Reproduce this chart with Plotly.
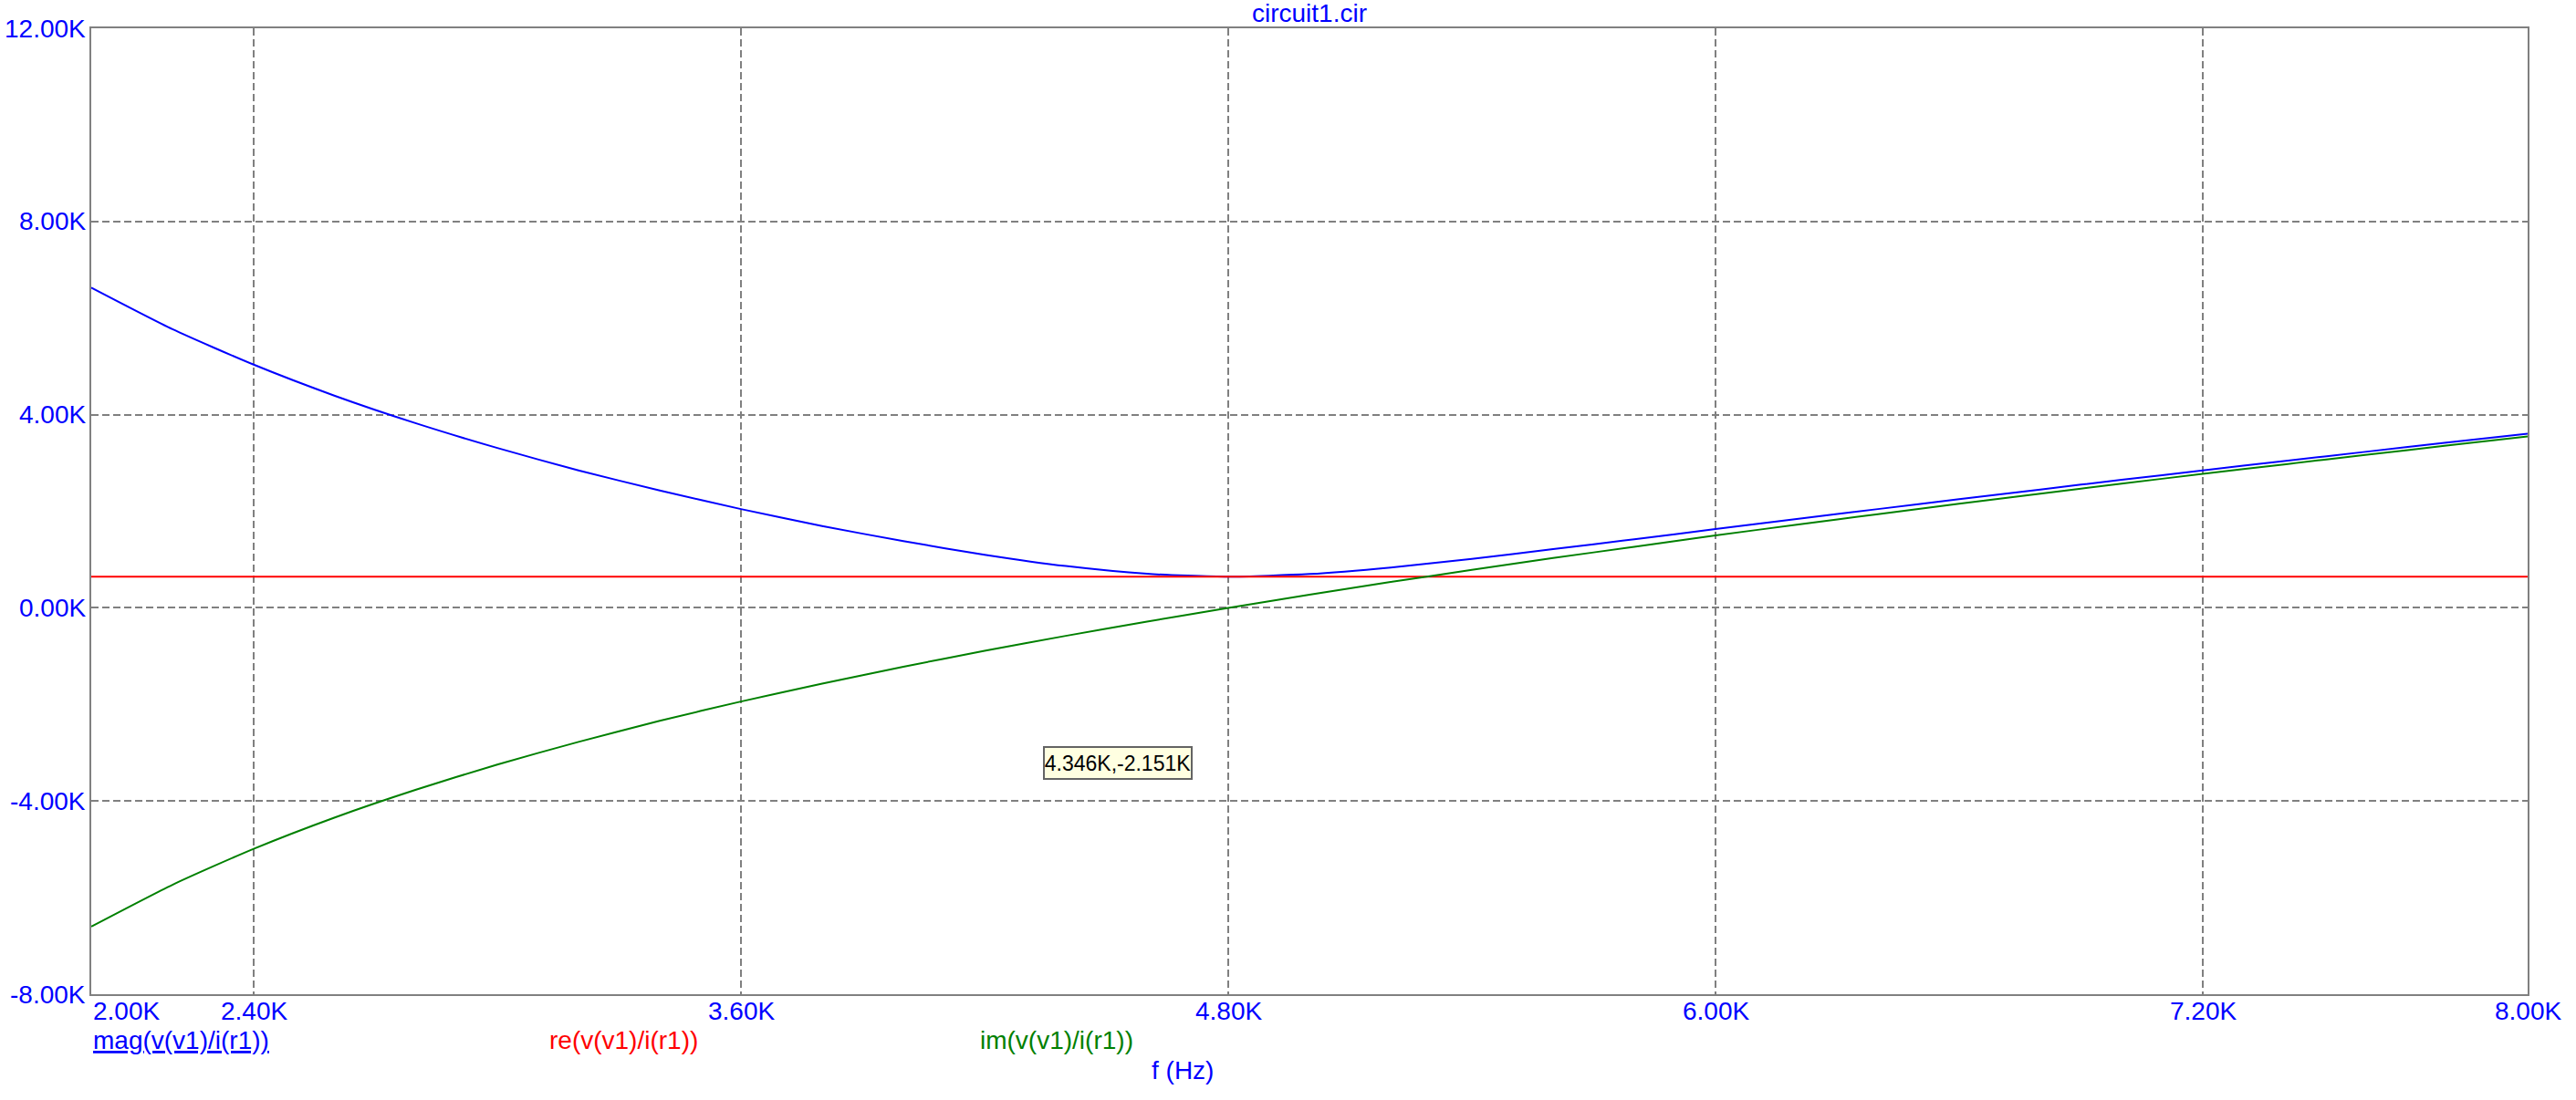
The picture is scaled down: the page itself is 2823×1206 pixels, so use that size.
import plotly.graph_objects as go

# ---- data ----
freq_hz = [2000, 2200, 2400, 2600, 2800, 3000, 3200, 3400, 3600, 3800,
           4000, 4200, 4400, 4600, 4800, 5000, 5200, 5400, 5600, 5800,
           6000, 6200, 6400, 6600, 6800, 7000, 7200, 7400, 7600, 7800, 8000]
mag_z = [6630, 5770, 5035, 4390, 3820, 3310, 2845, 2430, 2045, 1695,
         1380, 1100, 865, 705, 645, 700, 835, 1015, 1215, 1420,
         1630, 1840, 2045, 2250, 2450, 2650, 2845, 3040, 3230, 3420, 3605]
re_z = [645] * len(freq_hz)
im_z = [-6600, -5735, -4990, -4340, -3765, -3245, -2775, -2340, -1940, -1570,
        -1220, -890, -580, -285, 0, 270, 535, 785, 1030, 1265,
        1500, 1720, 1940, 2155, 2365, 2570, 2775, 2970, 3165, 3360, 3550]

x_grid = [2400, 3600, 4800, 6000, 7200]
x_ticks = [2000, 2400, 3600, 4800, 6000, 7200, 8000]
x_tick_text = ["2.00K", "2.40K", "3.60K", "4.80K", "6.00K", "7.20K", "8.00K"]
y_grid = [-4000, 0, 4000, 8000]
y_ticks = [-8000, -4000, 0, 4000, 8000, 12000]
y_tick_text = ["-8.00K", "-4.00K", "0.00K", "4.00K", "8.00K", "12.00K"]

series_names = ["mag(v(v1)/i(r1))", "re(v(v1)/i(r1))", "im(v(v1)/i(r1))"]
title_text = "circuit1.cir"
x_title = "f (Hz)"
cursor_text = "4.346K,-2.151K"

BLUE = "#0000ff"
RED = "#ff0000"
GREEN = "#008000"
GRAY = "#808080"
FONT = "Liberation Sans, Arial, sans-serif"
FS = 28

W, H = 2823, 1206
L, T = 100, 31
PW, PH = 2670, 1059   # plot area in px

fig = go.Figure()
for ys, col, nm in [(mag_z, BLUE, series_names[0]),
                    (re_z, RED, series_names[1]),
                    (im_z, GREEN, series_names[2])]:
    fig.add_trace(go.Scatter(x=freq_hz, y=ys, mode="lines", name=nm,
                             line=dict(color=col, width=2, shape="spline", smoothing=0.6),
                             showlegend=False))

ann = []
# x tick labels
for v, t in zip(x_ticks, x_tick_text):
    xa = "center"
    if v == x_ticks[0]:
        xa = "left"
    ann.append(dict(x=v, y=0, xref="x", yref="paper", text=t, showarrow=False,
                    xanchor=xa, yanchor="middle", yshift=-18,
                    font=dict(family=FONT, size=FS, color=BLUE)))
# y tick labels
for v, t in zip(y_ticks, y_tick_text):
    ann.append(dict(x=0, y=v, xref="paper", yref="y", text=t, showarrow=False,
                    xanchor="right", yanchor="middle", xshift=-4,
                    font=dict(family=FONT, size=FS, color=BLUE)))
# title
ann.append(dict(x=0.5, y=1, xref="paper", yref="paper", text=title_text, showarrow=False,
                xanchor="center", yanchor="middle", yshift=17,
                font=dict(family=FONT, size=FS, color=BLUE)))
# series labels under the plot
label_pos = [0.0, (600 - L) / PW, (1072 - L) / PW]
label_cols = [BLUE, RED, GREEN]
for i, nm in enumerate(series_names):
    txt = "<u>" + nm + "</u>" if i == 0 else nm
    ann.append(dict(x=label_pos[i], y=0, xref="paper", yref="paper", text=txt,
                    showarrow=False, xanchor="left", yanchor="middle", yshift=-50,
                    font=dict(family=FONT, size=FS, color=label_cols[i])))
# x axis title
ann.append(dict(x=(1296 - L) / PW, y=0, xref="paper", yref="paper", text=x_title,
                showarrow=False, xanchor="center", yanchor="middle", yshift=-83,
                font=dict(family=FONT, size=FS, color=BLUE)))
# cursor readout box
ann.append(dict(x=(1225 - L) / PW, y=(T + PH - 836.5) / PH, xref="paper", yref="paper",
                text=cursor_text, showarrow=False, xanchor="center", yanchor="middle",
                bgcolor="#ffffe1", bordercolor="#646464", borderwidth=2, borderpad=0,
                width=160, height=33,
                font=dict(family="Liberation Sans, Arial, sans-serif", size=23, color="#000000")))

fig.update_layout(
    width=W, height=H,
    margin=dict(l=L, r=W - L - PW, t=T, b=H - T - PH, pad=0),
    paper_bgcolor="white", plot_bgcolor="white",
    annotations=ann,
    xaxis=dict(range=[2000, 8000], tickvals=x_grid, showticklabels=False, ticks="",
               showgrid=True, gridcolor=GRAY, gridwidth=2, griddash="8px,4px",
               showline=True, mirror=True, linecolor=GRAY, linewidth=2, zeroline=False),
    yaxis=dict(range=[-8000, 12000], tickvals=y_grid, showticklabels=False, ticks="",
               showgrid=True, gridcolor=GRAY, gridwidth=2, griddash="8px,4px",
               showline=True, mirror=True, linecolor=GRAY, linewidth=2, zeroline=False),
    hovermode=False,
)

fig.write_html("out.html",
               config={"displayModeBar": False},
               post_script="document.body.style.margin='0';document.body.style.overflow='hidden';")
